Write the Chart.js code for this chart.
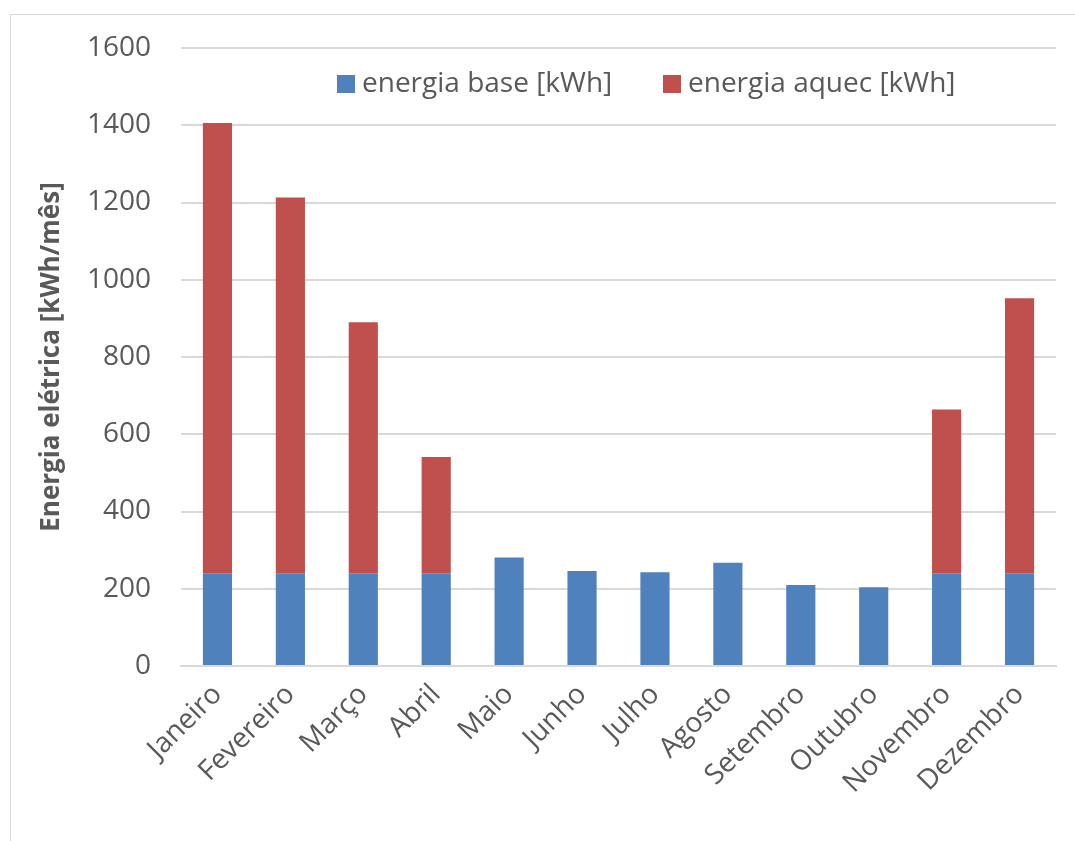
<!DOCTYPE html>
<html>
<head>
<meta charset="utf-8">
<script src="https://cdn.jsdelivr.net/npm/chart.js@4/dist/chart.umd.min.js"></script>
<style>
  html, body { margin: 0; padding: 0; background: #ffffff; }
  #wrap { position: relative; width: 1075px; height: 841px; overflow: hidden; }
  #frame { position: absolute; left: 10px; top: 14px; width: 1100px; height: 900px;
           border: 1.5px solid #d9d9d9; box-sizing: border-box; }
  canvas { position: absolute; left: 0; top: 0; }
</style>
</head>
<body>
<div id="wrap">
  <div id="frame"></div>
  <canvas id="c" width="1075" height="841"></canvas>
</div>
<script>
// Monthly electricity use, kWh
const months = ['Janeiro', 'Fevereiro', 'Março', 'Abril', 'Maio', 'Junho',
                'Julho', 'Agosto', 'Setembro', 'Outubro', 'Novembro', 'Dezembro'];
const energiaBase  = [240, 240, 240, 240, 281, 246, 243, 267, 210, 204, 240, 240];
const energiaAquec = [1166, 973, 650, 301, 0, 0, 0, 0, 0, 0, 424, 712];
const yTicks = [0, 200, 400, 600, 800, 1000, 1200, 1400, 1600];

const seriesNames = ['energia base [kWh]', 'energia aquec [kWh]'];
const axisTitle = 'Energia elétrica [kWh/mês]';

const FONT = "'Open Sans', sans-serif";
const TEXT = '#595959';
const GRID = '#d9d9d9';

// Legend drawn inside the plot area, near the top
const insideLegend = {
  id: 'insideLegend',
  afterDraw(chart) {
    const ctx = chart.ctx;
    ctx.save();
    ctx.font = '28px ' + FONT;
    ctx.textBaseline = 'middle';
    ctx.textAlign = 'left';
    const y = 84;
    const starts = [337, 663];
    chart.data.datasets.forEach((ds, i) => {
      const x = starts[i];
      ctx.fillStyle = ds.backgroundColor;
      ctx.fillRect(x, y - 9, 18, 18);
      ctx.fillStyle = TEXT;
      ctx.fillText(ds.label, x + 25, y);
    });
    ctx.restore();
  }
};

new Chart(document.getElementById('c'), {
  type: 'bar',
  data: {
    labels: months,
    datasets: [
      { label: seriesNames[0], data: energiaBase, backgroundColor: '#4f81bd',
        barPercentage: 0.4, categoryPercentage: 1.0 },
      { label: seriesNames[1], data: energiaAquec, backgroundColor: '#c0504d',
        barPercentage: 0.4, categoryPercentage: 1.0 }
    ]
  },
  options: {
    responsive: false,
    animation: false,
    devicePixelRatio: 1,
    layout: { padding: { left: 36, right: 19, top: 48, bottom: 0 } },
    plugins: {
      legend: { display: false },
      tooltip: { enabled: false }
    },
    scales: {
      x: {
        stacked: true,
        grid: { display: false, drawTicks: false },
        border: { display: true, color: GRID, width: 2 },
        ticks: {
          color: TEXT,
          font: { family: FONT, size: 28 },
          maxRotation: 45, minRotation: 45,
          padding: 12
        },
        afterFit(s) { s.height = 841 - 666; }
      },
      y: {
        stacked: true,
        min: 0, max: 1600,
        afterBuildTicks(s) { s.ticks = yTicks.map(v => ({ value: v })); },
        grid: { color: GRID, lineWidth: 2, drawTicks: false },
        border: { display: false },
        ticks: {
          color: TEXT,
          font: { family: FONT, size: 28 },
          padding: 30,
          callback: v => String(v)
        },
        title: {
          display: true,
          text: axisTitle,
          color: TEXT,
          font: { family: FONT, size: 26, weight: 'bold' },
          padding: 0
        },
        afterFit(s) { s.width = 181 - 36; }
      }
    }
  },
  plugins: [insideLegend]
});
</script>
</body>
</html>
